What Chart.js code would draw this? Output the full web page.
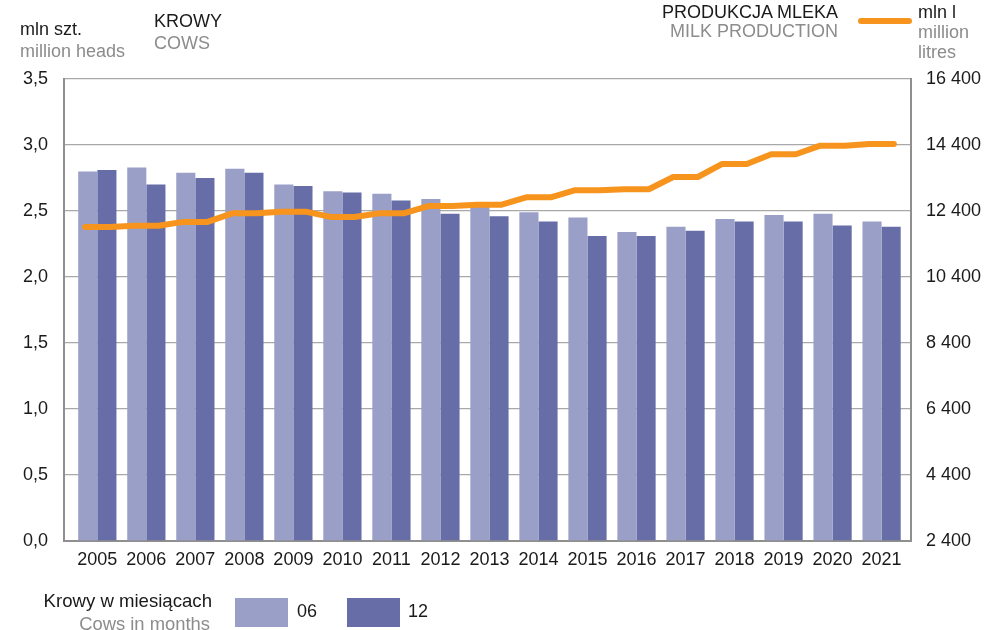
<!DOCTYPE html>
<html>
<head>
<meta charset="utf-8">
<script src="https://cdn.jsdelivr.net/npm/chart.js@4/dist/chart.umd.min.js"></script>
<style>
  html, body { margin: 0; padding: 0; background: #fff; }
  #wrap { position: relative; width: 986px; height: 630px; overflow: hidden; font-family: "Liberation Sans", Arial, sans-serif; }
  #c { position: absolute; left: 0; top: 0; }
  .t { position: absolute; font-size: 18px; line-height: 18px; white-space: nowrap; color: #1a1a1a; }
  .g { color: #8c8c8c; }
  .sw { position: absolute; }
</style>
</head>
<body>
<div id="wrap">
  <canvas id="c" width="986" height="630"></canvas>
  <div class="t" style="left:20px;top:20px;">mln szt.</div>
  <div class="t g" style="left:20px;top:42px;">million heads</div>
  <div class="t" style="left:154px;top:12px;">KROWY</div>
  <div class="t g" style="left:154px;top:34px;">COWS</div>
  <div class="t" style="right:148px;top:3px;">PRODUKCJA MLEKA</div>
  <div class="t g" style="right:148px;top:22px;">MILK PRODUCTION</div>
  <div class="sw" style="left:858px;top:18px;width:54px;height:6px;border-radius:3px;background:#f7941d;"></div>
  <div class="t" style="left:918px;top:3px;">mln l</div>
  <div class="t g" style="left:918px;top:23px;">million</div>
  <div class="t g" style="left:918px;top:43px;">litres</div>
  <div class="t" style="right:774px;top:592px;font-size:18.6px;">Krowy w miesiącach</div>
  <div class="t g" style="right:776px;top:615px;font-size:18.4px;">Cows in months</div>
  <div class="sw" style="left:235px;top:598px;width:53px;height:29px;background:#9a9fc7;"></div>
  <div class="t" style="left:297px;top:602px;">06</div>
  <div class="sw" style="left:347px;top:598px;width:53px;height:29px;background:#676ea7;"></div>
  <div class="t" style="left:408px;top:602px;">12</div>
</div>
<script>
const years = ['2005','2006','2007','2008','2009','2010','2011','2012','2013','2014','2015','2016','2017','2018','2019','2020','2021'];
const cows06 = [2.80,2.83,2.79,2.82,2.70,2.65,2.63,2.59,2.53,2.49,2.45,2.34,2.38,2.44,2.47,2.48,2.42];
const cows12 = [2.81,2.70,2.75,2.79,2.69,2.64,2.58,2.48,2.46,2.42,2.31,2.31,2.35,2.42,2.42,2.39,2.38];
const milk = [11915,11955,12070,12330,12380,12220,12330,12550,12590,12815,13030,13060,13430,13825,14120,14380,14430];
const leftTicks = [0,0.5,1,1.5,2,2.5,3,3.5];
const rightTicks = [2400,4400,6400,8400,10400,12400,14400,16400];

const GRID = '#a8a8a8';
const AXIS = '#8f8f8f';
const FONT = { family: '"Liberation Sans", Arial, sans-serif', size: 18 };

const barData06 = cows06.map((v, i) => ({ x: i, y: v }));
const barData12 = cows12.map((v, i) => ({ x: i, y: v }));
const milkData = [];
milk.forEach((v, i) => { milkData.push({ x: i - 0.25, y: v }); milkData.push({ x: i + 0.25, y: v }); });

new Chart(document.getElementById('c'), {
  data: {
    datasets: [
      { type: 'line', label: 'milk', data: milkData, yAxisID: 'y1', xAxisID: 'x',
        borderColor: '#f7941d', borderWidth: 6, pointRadius: 0, tension: 0,
        borderCapStyle: 'round', borderJoinStyle: 'round', order: 0 },
      { type: 'bar', label: '06', data: barData06, yAxisID: 'y', xAxisID: 'x',
        backgroundColor: '#9a9fc7', borderWidth: 0, barPercentage: 1, categoryPercentage: 0.78, order: 1 },
      { type: 'bar', label: '12', data: barData12, yAxisID: 'y', xAxisID: 'x',
        backgroundColor: '#676ea7', borderWidth: 0, barPercentage: 1, categoryPercentage: 0.78, order: 2 }
    ]
  },
  options: {
    responsive: false,
    animation: false,
    devicePixelRatio: 1,
    layout: { padding: { top: 79, bottom: 59, left: 0, right: 0 } },
    plugins: { legend: { display: false }, tooltip: { enabled: false } },
    scales: {
      x: {
        type: 'linear', min: -0.68, max: 16.6, offset: false,
        afterBuildTicks: (s) => { s.ticks = years.map((y, i) => ({ value: i })); },
        grid: { display: false, offset: false },
        border: { display: true, color: AXIS, width: 2 },
        ticks: {
          autoSkip: false, maxRotation: 0, padding: 0, color: '#1a1a1a', font: FONT,
          callback: (v) => (Number.isInteger(v) && years[v] !== undefined) ? years[v] : ''
        },
        afterFit: (s) => { s.height = 30; }
      },
      y: {
        position: 'left', min: 0, max: 3.5,
        afterBuildTicks: (s) => { s.ticks = leftTicks.map(v => ({ value: v })); },
        grid: { color: GRID, lineWidth: 1.3, drawTicks: false },
        border: { display: true, color: AXIS, width: 2 },
        ticks: { padding: 16, color: '#1a1a1a', font: FONT,
          callback: (v) => v.toFixed(1).replace('.', ',') },
        afterFit: (s) => { s.width = 64; }
      },
      y1: {
        position: 'right', min: 2400, max: 16400,
        afterBuildTicks: (s) => { s.ticks = rightTicks.map(v => ({ value: v })); },
        grid: { display: false, drawTicks: false },
        border: { display: true, color: AXIS, width: 2 },
        ticks: { padding: 15, color: '#1a1a1a', font: FONT,
          callback: (v) => { const s = String(Math.round(v)); return s.length > 3 ? s.slice(0, s.length - 3) + ' ' + s.slice(-3) : s; } },
        afterFit: (s) => { s.width = 75; }
      }
    }
  }
});
</script>
</body>
</html>
